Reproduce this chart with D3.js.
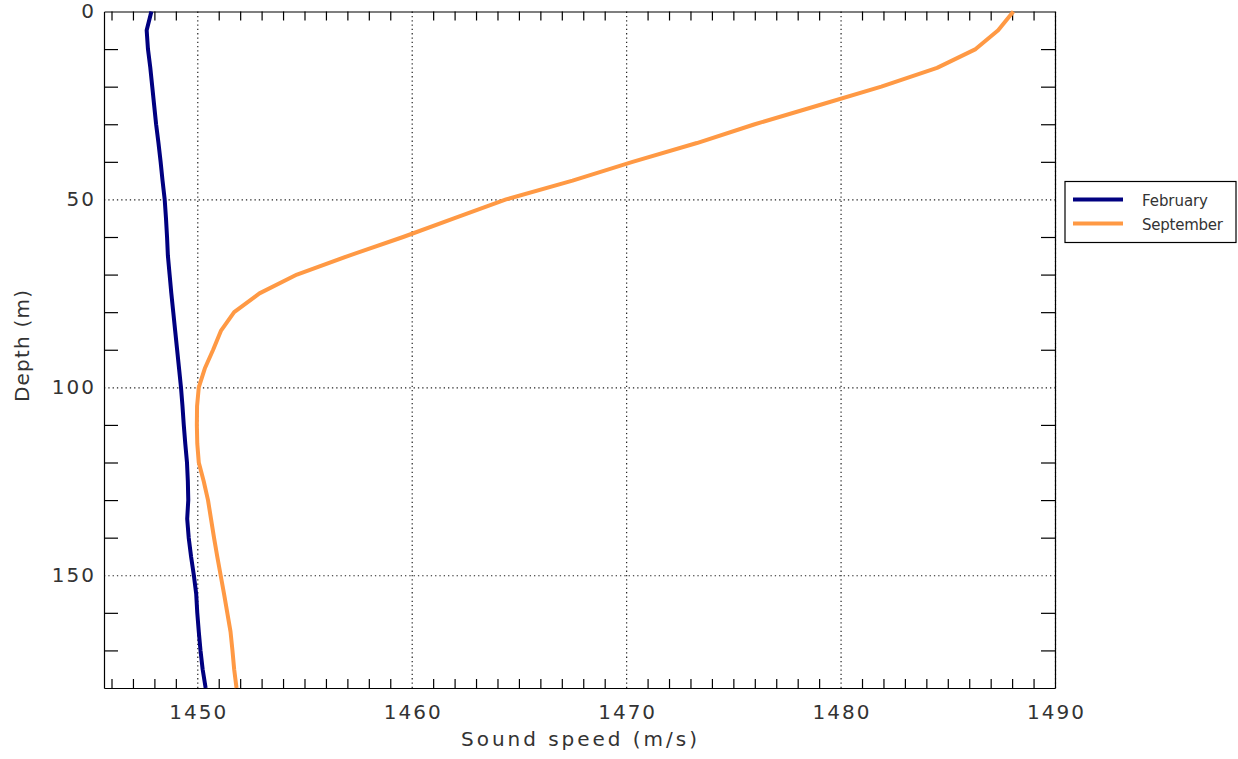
<!DOCTYPE html>
<html>
<head>
<meta charset="utf-8">
<script src="https://cdn.jsdelivr.net/npm/d3@7"></script>
<style>
  body { margin: 0; background: #fff; }
  text { font-family: "DejaVu Sans", sans-serif; fill: #333; }
</style>
</head>
<body>
<div id="chart"></div>
<script>
// depth levels (m) and sound speed profiles (m/s)
const depths = [0, 5, 10, 15, 20, 25, 30, 35, 40, 45, 50, 55, 60, 65, 70, 75, 80, 85, 90,
    95, 100, 105, 110, 115, 120, 125, 130, 135, 140, 145, 150, 155, 160, 165, 170, 175, 180];
const february = [1447.86, 1447.64, 1447.70, 1447.81, 1447.90, 1447.99, 1448.08, 1448.19, 1448.29,
    1448.38, 1448.48, 1448.54, 1448.59, 1448.63, 1448.71, 1448.79, 1448.88, 1448.97, 1449.06,
    1449.15, 1449.24, 1449.31, 1449.37, 1449.44, 1449.52, 1449.56, 1449.58, 1449.53, 1449.60,
    1449.71, 1449.84, 1449.95, 1450.00, 1450.07, 1450.15, 1450.25, 1450.39];
const september = [1488.06, 1487.35, 1486.30, 1484.50, 1481.90, 1478.95, 1476.00, 1473.30, 1470.30,
    1467.50, 1464.40, 1462.00, 1459.60, 1457.05, 1454.65, 1452.90, 1451.72, 1451.10, 1450.74,
    1450.35, 1450.07, 1449.99, 1449.98, 1450.00, 1450.07, 1450.30, 1450.50, 1450.64, 1450.78,
    1450.93, 1451.09, 1451.25, 1451.40, 1451.55, 1451.64, 1451.72, 1451.83];
const seriesNames = ["February", "September"];
const seriesColors = ["#000080", "#ff9944"];

const xMajor = [1450, 1460, 1470, 1480, 1490];
const yMajor = [0, 50, 100, 150];

const width = 1238, height = 759;
const plot = {left: 104, right: 1055, top: 11.5, bottom: 688};

let svg = d3.select("#chart")
    .append("svg")
    .attr("width", width)
    .attr("height", height);

let x = d3.scaleLinear().domain([1445.65, 1490]).range([plot.left, plot.right]);
let y = d3.scaleLinear().domain([0, 180]).range([plot.top, plot.bottom]);

// minor ticks: every 1 m/s and every 10 m, majors left to the dotted grid
let xMinor = d3.range(1446, 1490).filter(d => d % 10 !== 0);
let yMinor = d3.range(10, 180, 10).filter(d => d % 50 !== 0);

// dotted grid
svg.append("g")
    .attr("transform", `translate(0, ${plot.bottom})`)
    .call(d3.axisBottom(x).tickValues(xMajor).tickSize(-(plot.bottom - plot.top)).tickFormat(""))
    .call(g => g.select(".domain").remove())
    .selectAll("line").attr("stroke", "#222").attr("stroke-dasharray", "1.3,3");
svg.append("g")
    .attr("transform", `translate(${plot.left}, 0)`)
    .call(d3.axisLeft(y).tickValues(yMajor.filter(d => d > 0)).tickSize(-(plot.right - plot.left)).tickFormat(""))
    .call(g => g.select(".domain").remove())
    .selectAll("line").attr("stroke", "#222").attr("stroke-dasharray", "1.3,3");

// frame with inward minor ticks
svg.append("g")
    .attr("transform", `translate(0, ${plot.bottom})`)
    .call(d3.axisBottom(x).tickValues(xMinor).tickSize(-9).tickSizeOuter(0).tickFormat(""));
svg.append("g")
    .attr("transform", `translate(0, ${plot.top})`)
    .call(d3.axisTop(x).tickValues(xMinor).tickSize(-9).tickSizeOuter(0).tickFormat(""));
svg.append("g")
    .attr("transform", `translate(${plot.left}, 0)`)
    .call(d3.axisLeft(y).tickValues(yMinor).tickSize(-14).tickSizeOuter(0).tickFormat(""));
svg.append("g")
    .attr("transform", `translate(${plot.right}, 0)`)
    .call(d3.axisRight(y).tickValues(yMinor).tickSize(-14).tickSizeOuter(0).tickFormat(""));
svg.selectAll(".domain, .tick line").attr("stroke-width", 1.2);

// tick labels
let xLab = svg.append("g")
    .attr("transform", `translate(0, ${plot.bottom})`)
    .call(d3.axisBottom(x).tickValues(xMajor).tickSize(0).tickPadding(17).tickFormat(d3.format("d")));
xLab.select(".domain").remove();
xLab.selectAll("text").attr("font-size", 20).attr("letter-spacing", 2).attr("dx", 1)
    .style("font-family", "DejaVu Sans").attr("fill", "#333");

let yLab = svg.append("g")
    .attr("transform", `translate(${plot.left}, 0)`)
    .call(d3.axisLeft(y).tickValues(yMajor).tickSize(0).tickPadding(8).tickFormat(d3.format("d")));
yLab.select(".domain").remove();
yLab.selectAll("text").attr("font-size", 20).attr("letter-spacing", 2)
    .style("font-family", "DejaVu Sans").attr("fill", "#333");

// axis titles
svg.append("text")
    .attr("x", 579).attr("y", 746)
    .attr("text-anchor", "middle")
    .attr("font-size", 20)
    .attr("textLength", 236).attr("lengthAdjust", "spacing")
    .text("Sound speed (m/s)");

svg.append("text")
    .attr("transform", `translate(29, 346) rotate(-90)`)
    .attr("text-anchor", "middle")
    .attr("font-size", 20)
    .attr("textLength", 112).attr("lengthAdjust", "spacing")
    .text("Depth (m)");

// profiles
let line = d3.line()
    .x(d => x(d[1]))
    .y(d => y(d[0]));

[february, september].forEach(function(values, i) {
    svg.append("path")
        .datum(depths.map((d, j) => [d, values[j]]))
        .attr("fill", "none")
        .attr("stroke", seriesColors[i])
        .attr("stroke-width", 4)
        .attr("stroke-linejoin", "round")
        .attr("d", line);
});

// legend
let legend = svg.append("g").attr("transform", "translate(1065, 181.5)");
legend.append("rect")
    .attr("width", 171).attr("height", 61)
    .attr("fill", "#fff").attr("stroke", "#000").attr("stroke-width", 1.2);
seriesNames.forEach(function(name, i) {
    let row = legend.append("g").attr("transform", `translate(0, ${18 + i * 24})`);
    row.append("line")
        .attr("x1", 8).attr("x2", 58)
        .attr("stroke", seriesColors[i]).attr("stroke-width", 4);
    row.append("text")
        .attr("x", 77).attr("y", 6)
        .attr("font-size", 15)
        .attr("textLength", i === 0 ? 66 : 81).attr("lengthAdjust", "spacing")
        .text(name);
});
</script>
</body>
</html>
